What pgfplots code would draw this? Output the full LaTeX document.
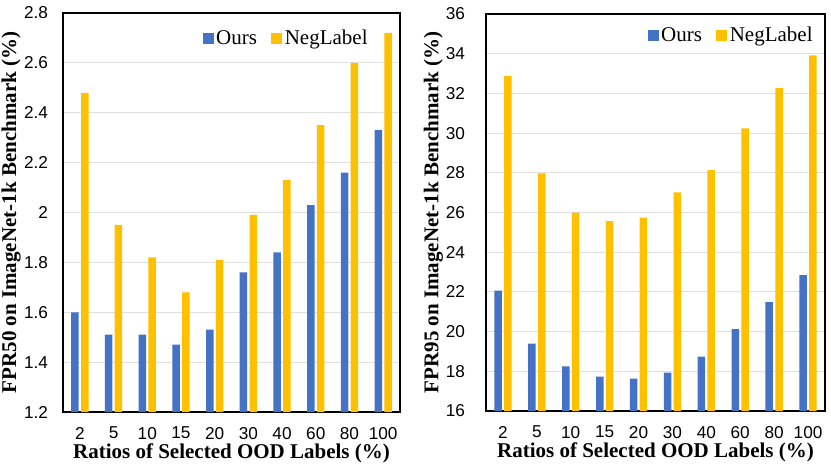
\documentclass[border=0pt]{standalone}
\usepackage{fontspec}
\setmainfont{Liberation Serif}
\newfontfamily\arialf{Liberation Sans}
\usepackage{pgfplots}
\pgfplotsset{compat=1.18}
\definecolor{oursblue}{HTML}{4472C4}
\definecolor{neggold}{HTML}{FFC000}
\definecolor{gridgray}{HTML}{E0E0E0}
\pgfplotsset{
  mystyle/.style={
    scale only axis,
    ybar=1.15pt,
    bar width=3.75pt,
    xmin=-0.5, xmax=9.5,
    xtick={0,...,9},
    xticklabels={2,5,10,15,20,30,40,60,80,100},
    major tick length=0pt,
    axis line style={line width=0.8pt},
    ymajorgrids,
    grid style={gridgray, line width=0.5pt},
    tick label style={font=\arialf\fontsize{8.6}{10}\selectfont},
    /pgf/number format/assume math mode=true,
    xticklabel style={yshift=-4pt},
    xlabel={\fontsize{10.5}{12}\selectfont\bfseries Ratios of Selected OOD Labels (\%)},
    xlabel style={yshift=4.5pt},
    ylabel style={font=\fontsize{10.5}{12}\selectfont\bfseries, anchor=center},
    legend columns=2,
    legend style={draw=none, fill=none, inner sep=0pt, outer sep=0pt,
      font=\fontsize{10.5}{12}\selectfont,
      /tikz/every even column/.append style={column sep=6pt},
      nodes={inner sep=1.2pt}},
    legend image code/.code={\fill[##1] (0pt,-2.75pt) rectangle (5.5pt,2.75pt);},
  }
}
\begin{document}
\begin{tikzpicture}
\path[use as bounding box] (0,0) rectangle (415.5pt,233.5pt);
\begin{axis}[mystyle,
  at={(31.5pt,27.5pt)}, anchor=south west,
  width=168.5pt, height=199.5pt,
  ymin=1.2, ymax=2.8, ytick={1.2,1.4,...,2.81},
  yticklabel style={xshift=-4pt},
  ylabel={FPR50 on ImageNet-1k Benchmark (\%)},
  ylabel style={at={(axis description cs:-0.154,0.5)}},
  legend style={at={(axis description cs:0.911,0.935)}, anchor=east},
]
\addplot[fill=oursblue, draw=none] coordinates {
(0,1.60) (1,1.51) (2,1.51) (3,1.47) (4,1.53) (5,1.76) (6,1.84) (7,2.03) (8,2.16) (9,2.33)};
\addplot[fill=neggold, draw=none] coordinates {
(0,2.48) (1,1.95) (2,1.82) (3,1.68) (4,1.81) (5,1.99) (6,2.13) (7,2.35) (8,2.60) (9,2.72)};
\legend{Ours,NegLabel}
\end{axis}
\begin{axis}[mystyle,
  at={(243pt,28pt)}, anchor=south west,
  width=169.5pt, height=198.5pt,
  ymin=16, ymax=36, ytick={16,18,...,36},
  yticklabel style={xshift=-7pt},
  ylabel={FPR95 on ImageNet-1k Benchmark (\%)},
  ylabel style={at={(axis description cs:-0.155,0.5)}},
  legend style={at={(axis description cs:0.9705,0.945)}, anchor=east},
]
\addplot[fill=oursblue, draw=none] coordinates {
(0,22.06) (1,19.39) (2,18.25) (3,17.73) (4,17.63) (5,17.93) (6,18.74) (7,20.12) (8,21.49) (9,22.84)};
\addplot[fill=neggold, draw=none] coordinates {
(0,32.88) (1,27.97) (2,25.99) (3,25.57) (4,25.74) (5,27.02) (6,28.13) (7,30.24) (8,32.26) (9,33.92)};
\legend{Ours,NegLabel}
\end{axis}
\end{tikzpicture}
\end{document}
